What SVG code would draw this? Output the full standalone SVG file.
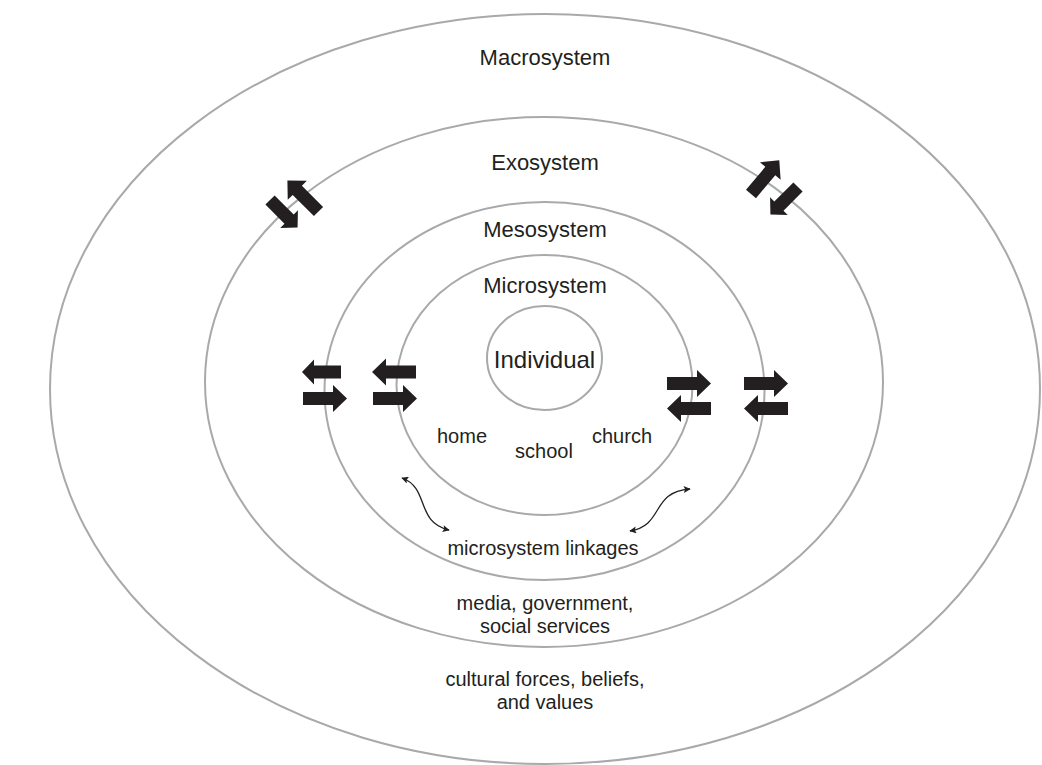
<svg xmlns="http://www.w3.org/2000/svg" xmlns:xlink="http://www.w3.org/1999/xlink" width="1042" height="765" viewBox="0 0 1042 765">
  <style>
    .ring { fill: none; stroke: #a7a9ac; stroke-width: 2; }
    .lbl { font-family: "Liberation Sans", Arial, Helvetica, sans-serif; fill: #231f20; text-anchor: middle; }
    .big { font-size: 22px; }
    .ind { font-size: 24px; }
    .sm { font-size: 20px; }
    .blk { fill: #231f20; }
    .thin { fill: none; stroke: #231f20; stroke-width: 1.3; }
  </style>
  <defs>
    <path id="blk" d="M0,-6.5 H30 V-13.5 L44,0 L30,13.5 V6.5 H0 Z"/>
    <path id="blkS" d="M0,-6.5 H27 V-12.5 L39,0 L27,12.5 V6.5 H0 Z"/>
    <marker id="ah" viewBox="0 0 10 10" refX="9" refY="5" markerWidth="9" markerHeight="7" markerUnits="userSpaceOnUse" orient="auto-start-reverse">
      <path d="M0,0 L10,5 L0,10 L2,5 Z" fill="#231f20"/>
    </marker>
  </defs>

  <g id="macrosystem">
    <ellipse class="ring" cx="545" cy="389" rx="495" ry="375"/>
    <text class="lbl big" x="545" y="65">Macrosystem</text>
    <text class="lbl sm" x="545" y="686">cultural forces, beliefs,</text>
    <text class="lbl sm" x="545" y="709">and values</text>
  </g>

  <g id="exosystem">
    <ellipse class="ring" cx="544" cy="382" rx="339" ry="265"/>
    <text class="lbl big" x="545" y="170">Exosystem</text>
    <text class="lbl sm" x="545" y="610">media, government,</text>
    <text class="lbl sm" x="545" y="633">social services</text>
  </g>

  <g id="mesosystem">
    <ellipse class="ring" cx="544.5" cy="391" rx="220" ry="189"/>
    <text class="lbl big" x="545" y="237">Mesosystem</text>
    <text class="lbl sm" x="543" y="555">microsystem linkages</text>
  </g>

  <g id="microsystem">
    <ellipse class="ring" cx="544.5" cy="385" rx="148" ry="130"/>
    <text class="lbl big" x="545" y="293">Microsystem</text>
    <text class="lbl sm" x="462" y="443">home</text>
    <text class="lbl sm" x="544" y="458">school</text>
    <text class="lbl sm" x="622" y="443">church</text>
  </g>

  <g id="individual">
    <ellipse class="ring" cx="544.5" cy="358" rx="57.5" ry="52"/>
    <text class="lbl ind" x="544.5" y="368">Individual</text>
  </g>

  <g id="connectors">
    <!-- horizontal block arrow pairs, left side -->
    <use href="#blkS" class="blk" transform="translate(341,372) rotate(180)"/>
    <use href="#blk" class="blk" transform="translate(303,398.5)"/>
    <use href="#blk" class="blk" transform="translate(416,372) rotate(180)"/>
    <use href="#blk" class="blk" transform="translate(373,398.5)"/>
    <!-- horizontal block arrow pairs, right side -->
    <use href="#blk" class="blk" transform="translate(667,383.5)"/>
    <use href="#blk" class="blk" transform="translate(711,408.5) rotate(180)"/>
    <use href="#blk" class="blk" transform="translate(744,383.5)"/>
    <use href="#blk" class="blk" transform="translate(788,408.5) rotate(180)"/>
    <!-- diagonal pair, upper left -->
    <use href="#blk" class="blk" transform="translate(318.5,211.5) rotate(-135)"/>
    <use href="#blkS" class="blk" transform="translate(270,200) rotate(45)"/>
    <!-- diagonal pair, upper right -->
    <use href="#blk" class="blk" transform="translate(751,194) rotate(-50)"/>
    <use href="#blkS" class="blk" transform="translate(798,187) rotate(135)"/>
    <!-- thin curved double arrows -->
    <path class="thin" d="M402,478 C430,488 415,522 449,530" marker-start="url(#ah)" marker-end="url(#ah)"/>
    <path class="thin" d="M630,531 C665,525 650,492 690,489" marker-start="url(#ah)" marker-end="url(#ah)"/>
  </g>
</svg>
